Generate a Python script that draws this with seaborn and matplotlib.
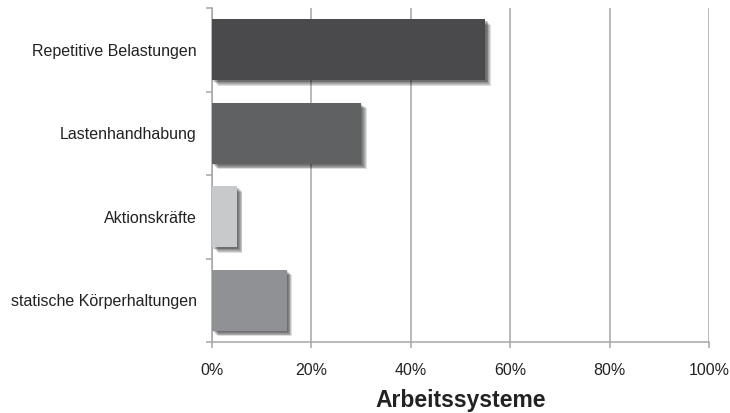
import matplotlib
matplotlib.use("Agg")
import matplotlib.pyplot as plt
import matplotlib.patheffects as pe
from matplotlib.ticker import PercentFormatter
import seaborn as sns
import pandas as pd

categories = ["Repetitive Belastungen", "Lastenhandhabung", "Aktionskräfte",
              "statische Körperhaltungen"]
values = [55, 30, 5, 15]
bar_colors = ["#4a4a4c", "#606163", "#c8c9cb", "#8f9194"]
x_ticks = [0, 20, 40, 60, 80, 100]
x_title = "Arbeitssysteme"

sns.set_theme(style="white")
plt.rcParams["font.family"] = ["Liberation Sans", "DejaVu Sans"]

df = pd.DataFrame({"Kategorie": categories, "Anteil": values})

fig = plt.figure(figsize=(7.3, 4.13), dpi=100)
ax = fig.add_axes([212 / 730, 1 - 342 / 413, 497 / 730, 334 / 413])

sns.barplot(data=df, x="Anteil", y="Kategorie", hue="Kategorie",
            palette=bar_colors, orient="h", width=0.73, legend=False,
            saturation=1, ax=ax, zorder=3)

# soft drop shadow under each bar
shadow = [pe.SimplePatchShadow(offset=(d, -d), shadow_rgbFace="black",
                               alpha=0.13) for d in (1.0, 1.6, 2.2, 2.8, 3.4, 4.0)]
for p in ax.patches:
    p.set_edgecolor("none")
    p.set_path_effects(shadow + [pe.Normal()])

ax.set_xlim(0, 100)
ax.set_ylim(3.5, -0.5)
ax.set_xticks(x_ticks)
ax.xaxis.set_major_formatter(PercentFormatter(decimals=0))
ax.set_yticks([-0.5, 0.5, 1.5, 2.5, 3.5], minor=False)
ax.set_yticklabels([])
ax.set_yticks([0, 1, 2, 3], minor=True)
ax.set_yticklabels(categories, minor=True)

ax.grid(axis="x", color="#a6a6a6", linewidth=1.1, zorder=0)
ax.set_axisbelow(True)
for s in ("top", "right"):
    ax.spines[s].set_visible(False)
for s in ("left", "bottom"):
    ax.spines[s].set_color("#a6a6a6")
    ax.spines[s].set_linewidth(1.1)

ax.tick_params(axis="x", which="major", direction="out", length=4, width=1.1,
               color="#a6a6a6", pad=11, labelsize=11.5, labelcolor="#222222",
               bottom=True)
ax.tick_params(axis="y", which="major", direction="out", length=4, width=1.1,
               color="#a6a6a6", left=True)
ax.tick_params(axis="y", which="minor", length=0, pad=11, labelsize=11.5,
               labelcolor="#222222")

ax.set_ylabel("")
ax.set_xlabel(x_title, fontsize=16.5, fontweight="bold", color="#222222",
              labelpad=8)

fig.savefig("out.png", dpi=100)
